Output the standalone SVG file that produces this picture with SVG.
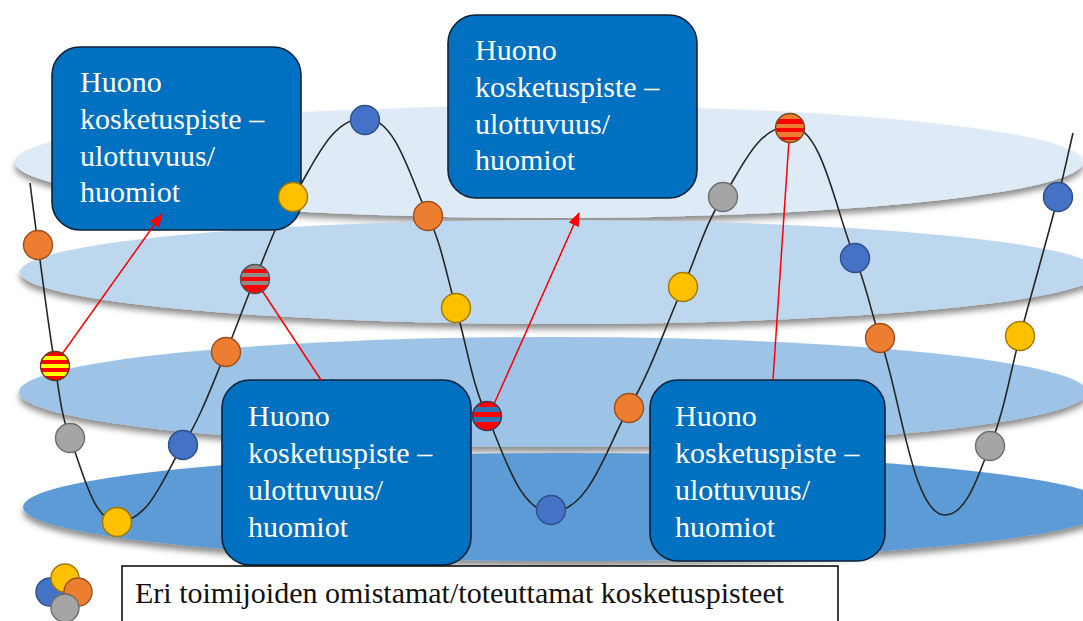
<svg xmlns="http://www.w3.org/2000/svg" width="1083" height="621" viewBox="0 0 1083 621">
  <style>
    .disc { filter: url(#discShadow); }
    .wave { fill: none; stroke: #262626; stroke-width: 1.6; }
    .link { fill: none; stroke: #ff0000; stroke-width: 1.5; }
    .box { fill: #0070c0; stroke: #0d2238; stroke-width: 1.6; }
    .boxText { font-family: "Liberation Serif", "Times New Roman", serif; font-size: 30px; fill: #ffffff; }
    .legendText { font-family: "Liberation Serif", "Times New Roman", serif; font-size: 30px; fill: #111111; }
    .dot { stroke-width: 1.4; }
    .blue { fill: #4472c4; stroke: #2f4f8a; }
    .orange { fill: #ed7d31; stroke: #9c5020; }
    .yellow { fill: #ffc000; stroke: #a07800; }
    .gray { fill: #a5a5a5; stroke: #6e6e6e; }
    .sY { fill: url(#stripeYellow); stroke: #5a3a1a; }
    .sG { fill: url(#stripeGray); stroke: #555555; }
    .sB { fill: url(#stripeBlue); stroke: #3a3a5a; }
    .sO { fill: url(#stripeOrange); stroke: #7a4a20; }
  </style>
  <defs>
    <filter id="discShadow" x="-5%" y="-30%" width="110%" height="170%">
      <feDropShadow dx="0" dy="5" stdDeviation="3" flood-color="#000000" flood-opacity="0.45"/>
    </filter>
    <marker id="redHead" markerWidth="14" markerHeight="11" refX="13" refY="5.5" orient="auto" markerUnits="userSpaceOnUse">
      <path d="M0,0 L14,5.5 L0,11 z" fill="#ff0000"/>
    </marker>
    <linearGradient id="stripeYellow" x1="0" y1="0" x2="0" y2="1">
      <stop offset="0" stop-color="#ff0000"/><stop offset="0.143" stop-color="#ff0000"/>
      <stop offset="0.143" stop-color="#ffff00"/><stop offset="0.286" stop-color="#ffff00"/>
      <stop offset="0.286" stop-color="#ff0000"/><stop offset="0.429" stop-color="#ff0000"/>
      <stop offset="0.429" stop-color="#ffff00"/><stop offset="0.571" stop-color="#ffff00"/>
      <stop offset="0.571" stop-color="#ff0000"/><stop offset="0.714" stop-color="#ff0000"/>
      <stop offset="0.714" stop-color="#ffff00"/><stop offset="0.857" stop-color="#ffff00"/>
      <stop offset="0.857" stop-color="#ff0000"/><stop offset="1" stop-color="#ff0000"/>
    </linearGradient>
    <linearGradient id="stripeGray" x1="0" y1="0" x2="0" y2="1">
      <stop offset="0" stop-color="#8c8c8c"/><stop offset="0.143" stop-color="#8c8c8c"/>
      <stop offset="0.143" stop-color="#ff0000"/><stop offset="0.286" stop-color="#ff0000"/>
      <stop offset="0.286" stop-color="#8c8c8c"/><stop offset="0.429" stop-color="#8c8c8c"/>
      <stop offset="0.429" stop-color="#ff0000"/><stop offset="0.571" stop-color="#ff0000"/>
      <stop offset="0.571" stop-color="#8c8c8c"/><stop offset="0.714" stop-color="#8c8c8c"/>
      <stop offset="0.714" stop-color="#ff0000"/><stop offset="1" stop-color="#ff0000"/>
    </linearGradient>
    <linearGradient id="stripeBlue" x1="0" y1="0" x2="0" y2="1">
      <stop offset="0" stop-color="#ff0000"/><stop offset="0.2" stop-color="#ff0000"/>
      <stop offset="0.2" stop-color="#2e75b6"/><stop offset="0.35" stop-color="#2e75b6"/>
      <stop offset="0.35" stop-color="#ff0000"/><stop offset="0.55" stop-color="#ff0000"/>
      <stop offset="0.55" stop-color="#2e75b6"/><stop offset="0.7" stop-color="#2e75b6"/>
      <stop offset="0.7" stop-color="#ff0000"/><stop offset="1" stop-color="#ff0000"/>
    </linearGradient>
    <linearGradient id="stripeOrange" x1="0" y1="0" x2="0" y2="1">
      <stop offset="0" stop-color="#ed7d31"/><stop offset="0.2" stop-color="#ed7d31"/>
      <stop offset="0.2" stop-color="#ff0000"/><stop offset="0.35" stop-color="#ff0000"/>
      <stop offset="0.35" stop-color="#ed7d31"/><stop offset="0.5" stop-color="#ed7d31"/>
      <stop offset="0.5" stop-color="#ff0000"/><stop offset="0.65" stop-color="#ff0000"/>
      <stop offset="0.65" stop-color="#ed7d31"/><stop offset="0.8" stop-color="#ed7d31"/>
      <stop offset="0.8" stop-color="#ff0000"/><stop offset="0.9" stop-color="#ff0000"/>
      <stop offset="0.9" stop-color="#ed7d31"/><stop offset="1" stop-color="#ed7d31"/>
    </linearGradient>
  </defs>

  <rect width="1083" height="621" fill="#ffffff"/>

  <!-- stacked layer discs -->
  <g id="discs">
    <ellipse class="disc" cx="549" cy="162" rx="534" ry="56" fill="#deebf7"/>
    <ellipse class="disc" cx="560" cy="272" rx="540" ry="52" fill="#bdd7ee"/>
    <ellipse class="disc" cx="553" cy="392" rx="534" ry="55" fill="#9dc3e6"/>
    <ellipse class="disc" cx="567" cy="507" rx="544" ry="54" fill="#5b9bd5"/>
  </g>

  <!-- journey curve -->
  <g id="curve">
    <path class="wave" d="M30,183 C32.7,203.6 35.2,224.4 38,245 C43.5,285.3 48.3,325.8 55,366 C59,390.2 61,415.2 70,438 C81.8,467.8 93.5,522 117,522 C150,522 164.7,473.5 183,445 C201.5,416.2 212.4,383.4 226,352 C236.4,327.9 244.6,303.1 255,279 C267,251.4 276,221.9 293,197 C313.1,167.6 329.4,118 365,118 C396.5,118 411.2,181 428,216 C441.9,245 446.9,277.2 456,308 C466.6,344 471.2,382 487,416 C503.2,450.9 519,512 551,512 C590,512 607.1,445.3 629,408 C651.4,369.9 665,327.4 683,287 C696.3,257.1 704.8,224.3 723,197 C741,169.9 757.5,126 790,126 C822.5,126 835.8,212.9 855,258 C865.9,283.7 870.8,311.7 880,338 C900.8,397.4 912.5,515 945,515 C967.5,515 979.4,471.4 990,446 C1004.7,411 1010,372.7 1020,336 C1032.6,289.7 1045.9,243.5 1058,197 C1063.5,175.8 1068,154.3 1073,133"/>
  </g>

  <!-- callout boxes -->
  <g id="box-top-left">
    <rect class="box" x="52" y="47" width="249" height="183" rx="28"/>
    <text class="boxText" x="80" y="92">Huono</text>
    <text class="boxText" x="80" y="129">kosketuspiste –</text>
    <text class="boxText" x="80" y="166">ulottuvuus/</text>
    <text class="boxText" x="80" y="202">huomiot</text>
  </g>
  <g id="box-top-middle">
    <rect class="box" x="448" y="15" width="249" height="183" rx="28"/>
    <text class="boxText" x="475" y="60">Huono</text>
    <text class="boxText" x="475" y="97">kosketuspiste –</text>
    <text class="boxText" x="475" y="134">ulottuvuus/</text>
    <text class="boxText" x="475" y="170">huomiot</text>
  </g>
  <g id="box-bottom-left">
    <rect class="box" x="222" y="380" width="249" height="185" rx="28"/>
    <text class="boxText" x="248" y="426">Huono</text>
    <text class="boxText" x="248" y="463">kosketuspiste –</text>
    <text class="boxText" x="248" y="500">ulottuvuus/</text>
    <text class="boxText" x="248" y="537">huomiot</text>
  </g>
  <g id="box-bottom-right">
    <rect class="box" x="650" y="380" width="235" height="181" rx="28"/>
    <text class="boxText" x="675" y="426">Huono</text>
    <text class="boxText" x="675" y="463">kosketuspiste –</text>
    <text class="boxText" x="675" y="500">ulottuvuus/</text>
    <text class="boxText" x="675" y="537">huomiot</text>
  </g>

  <!-- red pointers from touchpoints to callouts -->
  <g id="connectors">
    <line class="link" x1="60" y1="357" x2="162" y2="214" marker-end="url(#redHead)"/>
    <line class="link" x1="494" y1="404" x2="579" y2="213" marker-end="url(#redHead)"/>
    <line class="link" x1="261" y1="289" x2="321" y2="380"/>
    <line class="link" x1="789" y1="140" x2="773" y2="380"/>
  </g>

  <!-- touchpoints along the curve -->
  <g id="touchpoints">
    <circle class="dot orange" cx="38" cy="245" r="14.5"/>
    <circle class="dot sY" cx="55" cy="366" r="14.5"/>
    <circle class="dot gray" cx="70" cy="438" r="14.5"/>
    <circle class="dot yellow" cx="117" cy="522" r="14.5"/>
    <circle class="dot blue" cx="183" cy="445" r="14.5"/>
    <circle class="dot orange" cx="226" cy="352" r="14.5"/>
    <circle class="dot sG" cx="255" cy="279" r="14.5"/>
    <circle class="dot yellow" cx="293" cy="197" r="14.5"/>
    <circle class="dot blue" cx="365" cy="120" r="14.5"/>
    <circle class="dot orange" cx="428" cy="216" r="14.5"/>
    <circle class="dot yellow" cx="456" cy="308" r="14.5"/>
    <circle class="dot sB" cx="487" cy="416" r="14.5"/>
    <circle class="dot blue" cx="551" cy="510" r="14.5"/>
    <circle class="dot orange" cx="629" cy="408" r="14.5"/>
    <circle class="dot yellow" cx="683" cy="287" r="14.5"/>
    <circle class="dot gray" cx="723" cy="197" r="14.5"/>
    <circle class="dot sO" cx="790" cy="128" r="14.5"/>
    <circle class="dot blue" cx="855" cy="258" r="14.5"/>
    <circle class="dot orange" cx="880" cy="338" r="14.5"/>
    <circle class="dot gray" cx="990" cy="446" r="14.5"/>
    <circle class="dot yellow" cx="1020" cy="336" r="14.5"/>
    <circle class="dot blue" cx="1058" cy="197" r="14.5"/>
  </g>

  <!-- legend -->
  <g id="legend">
    <circle class="dot blue" cx="50" cy="592" r="14"/>
    <circle class="dot yellow" cx="65" cy="578" r="14"/>
    <circle class="dot orange" cx="78" cy="592" r="14"/>
    <circle class="dot gray" cx="65" cy="608" r="14"/>
    <rect x="122" y="566" width="716" height="70" fill="#ffffff" stroke="#000000" stroke-width="1.5"/>
    <text class="legendText" x="135" y="603">Eri toimijoiden omistamat/toteuttamat kosketuspisteet</text>
  </g>
</svg>
